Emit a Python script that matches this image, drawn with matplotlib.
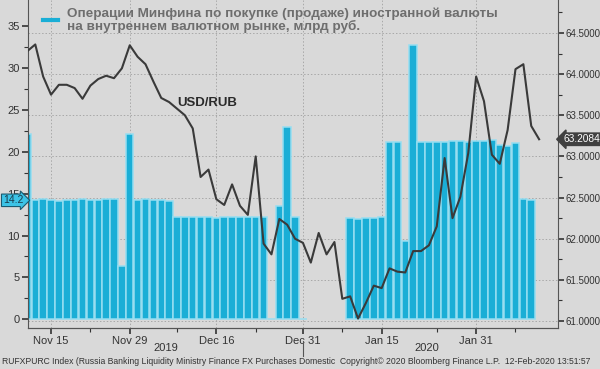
import numpy as np
import pandas as pd
import matplotlib
matplotlib.use('Agg')
import matplotlib.pyplot as plt
import matplotlib.transforms as mtransforms

plt.rcParams['font.family'] = ['Liberation Sans', 'DejaVu Sans']

# trading days on the chart (Jan 1 missing)
dates = pd.bdate_range('2019-11-12', '2020-02-12')
dates = dates[dates != pd.Timestamp('2020-01-01')]

# Minfin FX operations, bln rub (NaN = no bar)
ops = [22.1, 14.2, 14.4, 14.2, 14.1, 14.2, 14.2, 14.3, 14.2, 14.2, 14.3, 14.3, 6.4, 22.1,
       14.2, 14.3, 14.2, 14.2, 14.1,
       12.2, 12.2, 12.2, 12.2, 12.2, 12.1, 12.2, 12.2, 12.2, 12.2, 12.2, 12.2,
       0.0, 13.5, 22.9, 12.2, 0.0,
       np.nan, np.nan, np.nan, np.nan, np.nan,
       12.1, 12.0, 12.1, 12.1, 12.2, 21.1, 21.1, 9.4, 32.7, 21.15, 21.1, 21.1, 21.1,
       21.3, 21.3, 21.2, 21.3, 21.3, 21.4, 20.8, 20.7, 21.0, 14.3, 14.2, np.nan]

# USD/RUB
usdrub = [64.28, 64.36, 63.97, 63.75, 63.87, 63.87, 63.83, 63.70, 63.86, 63.94, 63.98, 63.95,
          64.07, 64.35, 64.21, 64.12, 63.91, 63.71, 63.66, 63.58, 63.50, 63.34, 62.75, 62.84,
          62.48, 62.41, 62.66, 62.40, 62.29, 63.00, 61.94, 61.81, 62.24, 62.17, 62.00, 61.95,
          61.71, 62.07, 61.81, 61.96, 61.27, 61.30, 61.03, 61.22, 61.43, 61.40, 61.64, 61.60,
          61.59, 61.85, 61.85, 61.92, 62.15, 62.98, 62.25, 62.51, 63.04, 63.97, 63.67, 63.02,
          62.91, 63.32, 64.06, 64.12, 63.37, 63.2084]

major_dates = ['2019-11-15', '2019-11-29', '2019-12-16', '2019-12-31', '2020-01-15', '2020-01-31']
minor_dates = ['2019-11-22', '2019-12-09', '2019-12-23', '2020-01-08', '2020-01-24', '2020-02-07']
major_labels = ['Nov 15', 'Nov 29', 'Dec 16', 'Dec 31', 'Jan 15', 'Jan 31']

legend_text = ('Операции Минфина по покупке (продаже) иностранной валюты\n'
               'на внутреннем валютном рынке, млрд руб.')
footer = ('RUFXPURC Index (Russia Banking Liquidity Ministry Finance FX Purchases Domestic  '
          'Copyright© 2020 Bloomberg Finance L.P.  12-Feb-2020 13:51:57')

bg = '#d9d9d9'
dark = '#333333'
x = np.arange(len(dates))
pos = {d: i for i, d in enumerate(dates)}

fig = plt.figure(figsize=(6, 3.69), dpi=100, facecolor=bg)
ax = fig.add_axes([0.047, 0.111, 0.883, 0.889])
ax.set_facecolor(bg)
ax2 = ax.twinx()

ax.bar(x, ops, width=0.95, color='#1aaed6', edgecolor='#96def1', linewidth=1.1, zorder=2)
ax2.plot(x, usdrub, color='#3a3a3a', lw=1.5, zorder=3)

ax.set_xlim(0.1, 67.4)
ax.set_ylim(-1.04, 38.1)
ax2.set_ylim(60.915, 64.90)

ax.set_yticks(np.arange(0, 36, 5))
ax.set_yticks(np.arange(2.5, 36, 5), minor=True)
ax2.set_yticks(np.arange(61, 64.6, 0.5))
ax2.set_yticks(np.arange(61.25, 64.9, 0.5), minor=True)
ax2.set_yticklabels(['%.4f' % v for v in np.arange(61, 64.6, 0.5)])

ax.set_xticks([pos[pd.Timestamp(d)] for d in major_dates])
ax.set_xticklabels(major_labels)
ax.set_xticks([pos[pd.Timestamp(d)] for d in minor_dates], minor=True)

for a in (ax, ax2):
    a.tick_params(axis='both', which='major', labelsize=8, colors=dark, length=4, width=1.2)
    a.tick_params(axis='both', which='minor', length=3, width=0.8, colors=dark)
    for s in a.spines.values():
        s.set_color('#555555')
    a.spines['top'].set_visible(False)
ax.tick_params(axis='y', pad=2)
ax2.tick_params(axis='y', pad=1.5, labelsize=7)
ax.tick_params(axis='x', pad=2)
ax2.spines['left'].set_visible(False)
ax.spines['right'].set_visible(False)

# grid: vertical from x ticks, horizontal from the right axis, both under the bars
for xv in ax.get_xticks():
    ax.axvline(xv, color='#a8a8a8', ls=(0, (1.5, 2)), lw=0.7, zorder=0)
blend = mtransforms.blended_transform_factory(ax.transAxes, ax2.transData)
for yv in np.arange(61, 64.6, 0.5):
    ax.plot([0, 1], [yv, yv], transform=blend, color='#a8a8a8', ls=(0, (1.5, 2)), lw=0.7, zorder=0)

# legend
fig.lines.append(plt.Line2D([43 / 600, 58 / 600], [1 - 20 / 369, 1 - 20 / 369], color='#1aaed6',
                            lw=3, transform=fig.transFigure))
fig.text(67 / 600, 1 - 20.5 / 369, legend_text, fontsize=9.7, fontweight='bold', color='#6e6e6e',
         va='center', ha='left', linespacing=0.95)
ax2.text(pos[pd.Timestamp('2019-12-09')], 63.65, 'USD/RUB', fontsize=9.5, fontweight='bold',
         color='#2a2a2a', ha='left', va='center')

# last value tags
ax.annotate('14.2', xy=(0, 14.2), xycoords=('axes fraction', 'data'), xytext=(-11, 0),
            textcoords='offset points', fontsize=7.5, color='#1a3a4a', ha='center', va='center',
            bbox=dict(boxstyle='rarrow,pad=0.12', fc='#3cc3e6', ec='#1a5a70', lw=0.8),
            annotation_clip=False)
ax2.annotate('63.2084', xy=(1, 63.2084), xycoords=('axes fraction', 'data'), xytext=(17, 0),
             textcoords='offset points', fontsize=7.3, color='white', ha='center', va='center',
             bbox=dict(boxstyle='larrow,pad=0.12', fc='#404040', ec='#404040'),
             annotation_clip=False)

# years and separator
fig.text(166 / 600, 1 - 348 / 369, '2019', fontsize=8, color=dark, ha='center', va='center')
fig.text(427 / 600, 1 - 348 / 369, '2020', fontsize=8, color=dark, ha='center', va='center')
fig.lines.append(plt.Line2D([303 / 600, 303 / 600], [1 - 341 / 369, 1 - 356 / 369],
                            color='#555555', lw=0.8, transform=fig.transFigure))
fig.text(2 / 600, 1 - 362 / 369, footer, fontsize=6.25, color=dark, ha='left', va='center')

plt.savefig('out.png', dpi=100, facecolor=bg)
